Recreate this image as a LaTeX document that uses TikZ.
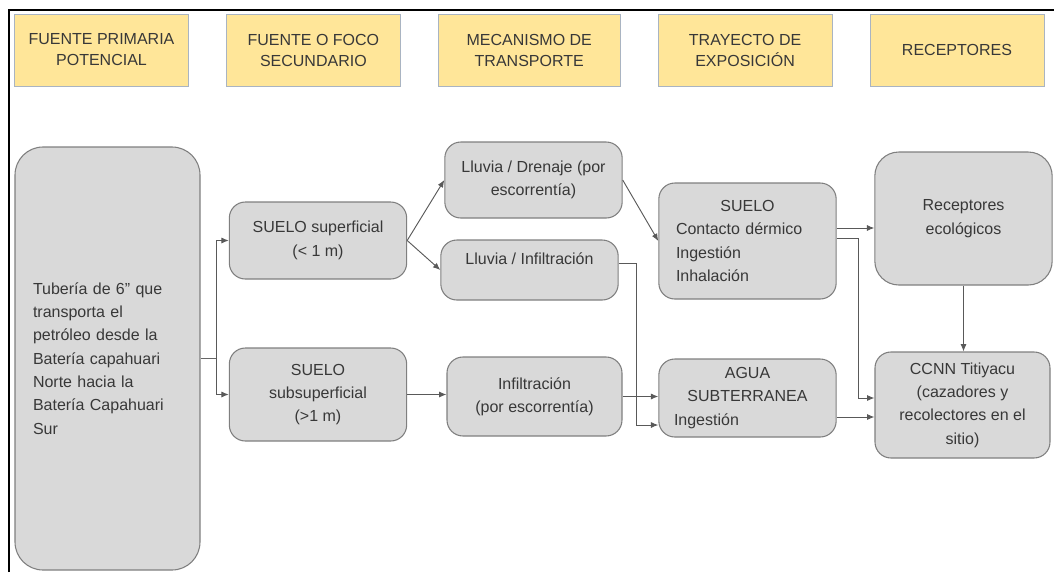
\documentclass[tikz,border=0pt]{standalone}
\usepackage{fontspec}
\setmainfont{Liberation Sans}
\usetikzlibrary{positioning, arrows.meta}
\definecolor{headfill}{HTML}{FFE699}
\definecolor{headline}{HTML}{A9B4C2}
\definecolor{boxfill}{HTML}{D9D9D9}
\definecolor{boxline}{HTML}{7F7F7F}
\definecolor{txt}{HTML}{383838}

\begin{document}
\begin{tikzpicture}[
            x=0.75pt, y=-0.75pt,
            node distance=28pt, % gap between the headers
            every node/.style={align=center, text=txt, inner sep=2pt, font=\fontsize{12pt}{17.5pt}\selectfont},
            head/.style={draw=headline, fill=headfill, minimum width=130.5pt, minimum height=54pt, font=\fontsize{12pt}{15.75pt}\selectfont},
            box/.style={draw=boxline, fill=boxfill, line width=0.8pt, rounded corners=12pt, minimum width=133pt},
            arr/.style={draw=black!65, line width=0.7pt, -{Latex[length=5.5pt,width=4.5pt]}}
        ]
            \useasboundingbox (0,0) rectangle (1054,572);
            \draw[line width=1.2pt] (9,572) -- (9,10) -- (1054,10);

            % column headers
            \node[head] (head1) at (101.5,50) {FUENTE PRIMARIA\\POTENCIAL};
            \node[head, right=of head1] (head2) {FUENTE O FOCO\\SECUNDARIO};
            \node[head, right=of head2, minimum width=136.5pt] (head3) {MECANISMO DE\\TRANSPORTE};
            \node[head, right=of head3] (head4) {TRAYECTO DE\\EXPOSICIÓN};
            \node[head, right=of head4] (head5) {RECEPTORES};

            \node[box, rounded corners=21pt, minimum width=138.75pt, minimum height=317.25pt, text width=111.75pt, align=left] (pipe) at (107.5,358.5) {Tubería de 6” que\\transporta el\\petróleo desde la\\Batería capahuari\\Norte hacia la\\Batería Capahuari\\Sur};
            \node[box, minimum height=57.75pt] (soil1) at (318,240.5) {SUELO superficial\\(< 1 m)};
            \node[box, minimum height=69.75pt] (soil2) at (318,394.5) {SUELO\\subsuperficial\\(>1 m)};
            \node[box, minimum height=57pt] (rain1) at (533.5,180) {Lluvia / Drenaje (por\\escorrentía)};
            \node[box, minimum height=45pt] (rain2) at (529.5,270) {Lluvia / Infiltración\\~};
            \node[box, minimum width=131.25pt, minimum height=59.25pt] (infil) at (534.5,396.5) {Infiltración\\(por escorrentía)};
            \node[box, minimum height=87pt, text width=107.25pt, align=left] (expo1) at (747.5,241) {\makebox[\hsize]{SUELO}\\Contacto dérmico\\Ingestión\\Inhalación};
            \node[box, minimum height=58.5pt, text width=110.25pt, align=left] (expo2) at (747.5,398) {\makebox[\hsize]{AGUA}\\\makebox[\hsize]{SUBTERRANEA}\\Ingestión};
            \node[box, rounded corners=18pt, minimum height=99.75pt] (rec1) at (963.5,218.5) {Receptores\\ecológicos};
            \node[box, minimum width=131.25pt, minimum height=79.5pt] (rec2) at (962.5,405) {CCNN Titiyacu\\(cazadores y\\recolectores en el\\sitio)};

            % fuente primaria hacia los suelos
            \draw[draw=black!60, line width=0.7pt] (pipe.east) -- ++(16,0) coordinate (fork);
            \draw[arr] (fork) |- (soil1.west);
            \draw[arr] (fork) |- (soil2.west);

            \draw[arr] (soil1.east) -- (rain1.west);
            \draw[arr] (soil1.east) -- (rain2.west);
            \draw[arr] (rain1.east) -- (expo1.west);
            \draw[arr] (soil2.east) -- (soil2.east -| infil.west);
            \draw[arr] (infil.east) -- (infil.east -| expo2.west);
            \draw[arr] ([yshift=5.25pt]rain2.east) -- ++(18,0) |- ([yshift=-20.25pt]expo2.west);

            % trayectos hacia receptores
            \coordinate (s1) at ([yshift=9.75pt]expo1.east);
            \draw[arr] (s1) -- (s1 -| rec1.west);
            \draw[arr] ([yshift=2.25pt]expo1.east) -- ++(22,0) |- ([yshift=5.25pt]rec2.west);
            \coordinate (a1) at ([yshift=-14.25pt]expo2.east);
            \draw[arr] (a1) -- (a1 -| rec2.west);
            \draw[arr] (rec1.south) -- (rec1.south |- rec2.north);
        \end{tikzpicture}
\end{document}
